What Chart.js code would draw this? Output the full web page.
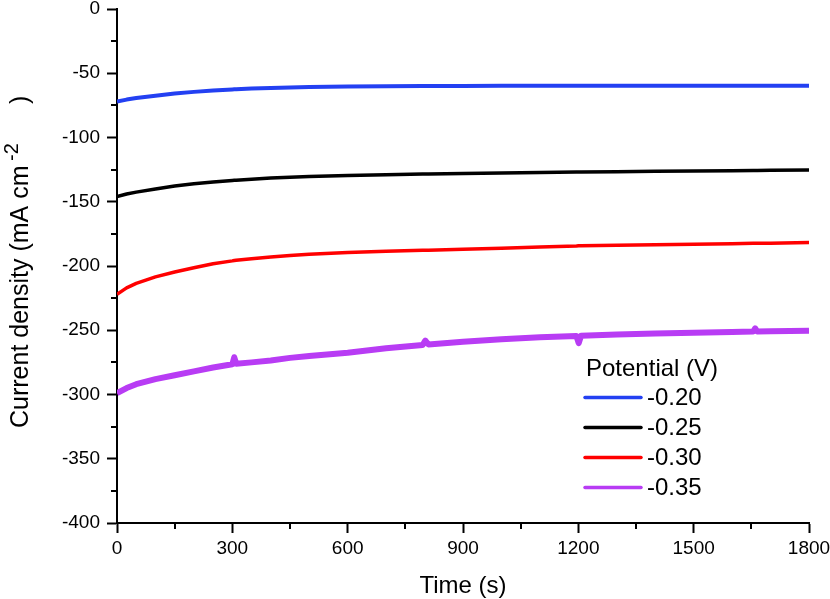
<!DOCTYPE html>
<html>
<head>
<meta charset="utf-8">
<script src="https://cdn.jsdelivr.net/npm/chart.js@4/dist/chart.umd.min.js"></script>
<style>
  html, body { margin: 0; padding: 0; background: #fff; }
  #wrap { width: 830px; height: 599px; }
</style>
</head>
<body>
<div id="wrap"><canvas id="c" width="830" height="599"></canvas></div>
<script>
// ---- data ----
const timeS = [0, 25, 50, 100, 150, 200, 250, 300, 305, 310, 350, 400, 450, 500, 600, 700, 795, 802, 810, 900, 1000, 1100, 1195, 1201, 1207, 1300, 1400, 1500, 1600, 1655, 1660, 1665, 1700, 1800];
const seriesLabels = ['-0.20', '-0.25', '-0.30', '-0.35'];
const j020 = [-72, -70.5, -69.3, -67.5, -65.8, -64.5, -63.4, -62.6, -62.5, -62.4, -61.9, -61.4, -61.0, -60.7, -60.3, -60.1, -60.0, -60.0, -60.0, -59.9, -59.8, -59.8, -59.7, -59.7, -59.7, -59.7, -59.7, -59.7, -59.7, -59.7, -59.7, -59.7, -59.7, -59.7];
const j025 = [-146, -144, -142.5, -140, -137.8, -136, -134.6, -133.4, -133.3, -133.2, -132.4, -131.6, -130.9, -130.4, -129.6, -129, -128.5, -128.5, -128.4, -128, -127.6, -127.2, -126.9, -126.9, -126.9, -126.6, -126.3, -126, -125.8, -125.6, -125.6, -125.6, -125.5, -125.3];
const j030 = [-222, -217, -213.5, -208.5, -204.7, -201.3, -198.2, -196, -195.7, -195.5, -194.3, -193, -191.8, -190.8, -189.5, -188.6, -187.8, -187.8, -187.7, -187, -186.2, -185.2, -184.4, -184.3, -184.3, -183.8, -183.4, -183, -182.6, -182.3, -182.3, -182.3, -182.2, -181.8];
const j035 = [-299, -295, -292, -288, -285, -282, -279, -276.5, -271, -276, -275, -273.5, -271.5, -270, -267.5, -264, -261.5, -258, -261, -259, -257, -255.5, -254.5, -260, -254.3, -253.3, -252.5, -252, -251.3, -251, -248.5, -251, -250.8, -250.3];
const xTicks = [0, 300, 600, 900, 1200, 1500, 1800];
const yTicks = [0, -50, -100, -150, -200, -250, -300, -350, -400];
const legendTitle = 'Potential (V)';
const xTitle = 'Time (s)';
const yTitleMain = 'Current density (mA cm';
const yTitleSup = '-2';
const yTitleEnd = ')';

// ---- styling ----
const FONT = '"Liberation Sans", Arial, Helvetica, sans-serif';
const colors = ['#2340f2', '#000000', '#ff0000', '#b83cf4'];
const widths = [4, 3.5, 3.5, 6];
const values = [j020, j025, j030, j035];

const datasets = values.map((arr, i) => ({
  label: seriesLabels[i],
  data: timeS.map((t, k) => ({ x: t, y: arr[k] })),
  borderColor: colors[i],
  backgroundColor: colors[i],
  borderWidth: widths[i],
  pointRadius: 0,
  tension: 0,
  borderJoinStyle: 'round',
  fill: false
}));

const minorTicks = {
  id: 'minorTicks',
  afterDraw(chart) {
    const ctx = chart.ctx, ca = chart.chartArea;
    const xs = chart.scales.x, ys = chart.scales.y;
    ctx.save();
    ctx.strokeStyle = '#000';
    ctx.lineWidth = 2;
    ctx.beginPath();
    for (let i = 0; i < xTicks.length - 1; i++) {
      const v = (xTicks[i] + xTicks[i + 1]) / 2;
      const p = Math.round(xs.getPixelForValue(v));
      ctx.moveTo(p, ca.bottom);
      ctx.lineTo(p, ca.bottom + 6);
    }
    for (let i = 0; i < yTicks.length - 1; i++) {
      const v = (yTicks[i] + yTicks[i + 1]) / 2;
      const p = Math.round(ys.getPixelForValue(v));
      ctx.moveTo(ca.left, p);
      ctx.lineTo(ca.left - 6, p);
    }
    ctx.stroke();
    ctx.restore();
  }
};

const titlesAndLegend = {
  id: 'titlesAndLegend',
  afterDraw(chart) {
    const ctx = chart.ctx, ca = chart.chartArea;
    ctx.save();
    ctx.fillStyle = '#000';
    // x title
    ctx.font = '24px ' + FONT;
    ctx.textAlign = 'center';
    ctx.textBaseline = 'alphabetic';
    ctx.fillText(xTitle, (ca.left + ca.right) / 2, 593);
    // y title (rotated)
    ctx.save();
    ctx.translate(27.5, 0);
    ctx.rotate(-Math.PI / 2);
    ctx.textAlign = 'left';
    ctx.font = '25px ' + FONT;
    ctx.fillText(yTitleMain, -428, 0);
    ctx.font = '20px ' + FONT;
    ctx.fillText(yTitleSup, -161, -10);
    ctx.font = '25px ' + FONT;
    ctx.fillText(yTitleEnd, -104, 0);
    ctx.restore();
    // legend
    ctx.textAlign = 'left';
    ctx.textBaseline = 'middle';
    ctx.font = '24px ' + FONT;
    ctx.fillText(legendTitle, 586, 369);
    chart.data.datasets.forEach((ds, i) => {
      const y = 397.5 + 30 * i;
      ctx.strokeStyle = ds.borderColor;
      ctx.lineWidth = 3.5;
      ctx.lineCap = 'round';
      ctx.beginPath();
      ctx.moveTo(585, y);
      ctx.lineTo(641, y);
      ctx.stroke();
      ctx.fillText(ds.label, 647, y + 1);
    });
    ctx.restore();
  }
};

new Chart(document.getElementById('c'), {
  type: 'line',
  data: { datasets },
  options: {
    responsive: false,
    animation: false,
    devicePixelRatio: 1,
    layout: { padding: { top: 9, right: 21, bottom: 0, left: 0 } },
    plugins: { legend: { display: false }, tooltip: { enabled: false } },
    scales: {
      x: {
        type: 'linear',
        min: 0, max: 1800,
        afterBuildTicks(scale) { scale.ticks = xTicks.map(v => ({ value: v })); },
        afterFit(scale) { scale.height = 76; scale.paddingLeft = 0; scale.paddingRight = 0; },
        ticks: { color: '#000', font: { family: FONT, size: 19 }, padding: 4, maxRotation: 0, autoSkip: false,
                 callback: (v) => String(v) },
        grid: { display: true, drawOnChartArea: false, drawTicks: true, tickLength: 10, tickWidth: 2, tickColor: '#000' },
        border: { display: true, color: '#000', width: 2 }
      },
      y: {
        type: 'linear',
        min: -400, max: 0,
        afterBuildTicks(scale) { scale.ticks = yTicks.slice().reverse().map(v => ({ value: v })); },
        afterFit(scale) { scale.width = 117; scale.paddingTop = 0; scale.paddingBottom = 0; },
        ticks: { color: '#000', font: { family: FONT, size: 19 }, padding: 7, autoSkip: false,
                 callback: (v) => String(v) },
        grid: { display: true, drawOnChartArea: false, drawTicks: true, tickLength: 10, tickWidth: 2, tickColor: '#000' },
        border: { display: true, color: '#000', width: 2 }
      }
    }
  },
  plugins: [minorTicks, titlesAndLegend]
});
</script>
</body>
</html>
